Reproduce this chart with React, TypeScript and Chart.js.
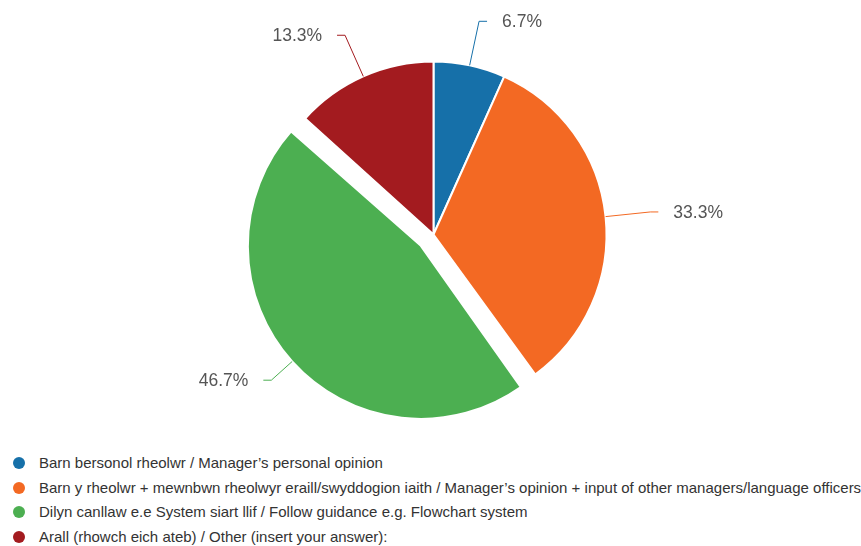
import React, { useEffect, useRef } from 'react';
import { Chart, registerables } from 'chart.js';

Chart.register(...registerables);

const categories = [
  'Barn bersonol rheolwr / Manager\u2019s personal opinion',
  'Barn y rheolwr + mewnbwn rheolwyr eraill/swyddogion iaith / Manager\u2019s opinion + input of other managers/language officers',
  'Dilyn canllaw e.e System siart llif / Follow guidance e.g. Flowchart system',
  'Arall (rhowch eich ateb) / Other (insert your answer):',
];
const values = [6.7, 33.3, 46.7, 13.3];
const colors = ['#1670a9', '#f36923', '#4caf51', '#a31b1f'];
// Chart.js translates an offset arc by offset/4 px
const explode = [0, 0, 68, 0];
const PIE_RADIUS = 173;

const LABEL_FONT = '17.5px "Liberation Sans", Arial, sans-serif';

// keep exploded slice the same radius as the others
const radiusFixPlugin = {
  id: 'radiusFix',
  beforeDatasetsDraw(chart: any) {
    const meta = chart.getDatasetMeta(0);
    meta.data.forEach((arc: any, i: number) => {
      const shift = explode[i] / 4;
      const circ = arc.endAngle - arc.startAngle;
      const fix = 1 - Math.sin(Math.min(Math.PI, circ || 0));
      arc.outerRadius = PIE_RADIUS - shift * fix;
    });
  },
};

const leaderPlugin = {
  id: 'leaderLabels',
  afterDatasetsDraw(chart: any) {
    const meta = chart.getDatasetMeta(0);
    const ctx = chart.ctx as CanvasRenderingContext2D;
    ctx.save();
    meta.data.forEach((arc: any, i: number) => {
      const p = arc.getProps(['x', 'y', 'startAngle', 'endAngle'], true);
      const mid = (p.startAngle + p.endAngle) / 2;
      const c = Math.cos(mid);
      const s = Math.sin(mid);
      const shift = explode[i] / 4;
      const sx = p.x + c * (PIE_RADIUS + shift);
      const sy = p.y + s * (PIE_RADIUS + shift);
      const ex = p.x + c * (PIE_RADIUS + 45);
      const ey = p.y + s * (PIE_RADIUS + 45);
      const dir = c >= 0 ? 1 : -1;
      const hx = ex + dir * 8;
      ctx.beginPath();
      ctx.moveTo(sx, sy);
      ctx.lineTo(ex, ey);
      ctx.lineTo(hx, ey);
      ctx.strokeStyle = colors[i];
      ctx.lineWidth = 1;
      ctx.stroke();
      ctx.font = LABEL_FONT;
      ctx.fillStyle = '#555555';
      ctx.textAlign = dir > 0 ? 'left' : 'right';
      ctx.textBaseline = 'middle';
      ctx.fillText(values[i].toFixed(1) + '%', hx + dir * 15, ey + 1);
    });
    ctx.restore();
  },
};

export default function App() {
  const canvasRef = useRef<HTMLCanvasElement | null>(null);

  useEffect(() => {
    document.body.style.margin = '0';
    const canvas = canvasRef.current;
    if (!canvas) return;
    const chart = new Chart(canvas, {
      type: 'pie',
      data: {
        labels: categories,
        datasets: [
          {
            data: values,
            backgroundColor: colors,
            borderColor: '#ffffff',
            borderWidth: 2,
            offset: explode,
            radius: PIE_RADIUS,
          } as any,
        ],
      },
      options: {
        animation: false,
        responsive: true,
        maintainAspectRatio: false,
        layout: { padding: { left: 6, right: 0, top: 29, bottom: 0 } },
        plugins: {
          legend: { display: false },
          tooltip: { enabled: false },
        },
      },
      plugins: [radiusFixPlugin, leaderPlugin],
    });
    return () => chart.destroy();
  }, []);

  return (
    <div style={{ width: 861, height: 546, position: 'relative', background: '#fff', fontFamily: '"Liberation Sans", Arial, sans-serif' }}>
      <div style={{ position: 'absolute', left: 0, top: 0, width: 861, height: 440 }}>
        <canvas ref={canvasRef} />
      </div>
      <div style={{ position: 'absolute', left: 0, top: 451, width: 861 }}>
        {categories.map((cat, i) => (
          <div key={i} style={{ position: 'relative', height: 24.7 }}>
            <span
              style={{
                position: 'absolute',
                left: 13,
                top: 6,
                width: 12,
                height: 12,
                borderRadius: '50%',
                background: colors[i],
              }}
            />
            <span style={{ position: 'absolute', left: 39, top: 3, fontSize: 15, lineHeight: '18px', color: '#333', whiteSpace: 'nowrap' }}>
              {cat}
            </span>
          </div>
        ))}
      </div>
    </div>
  );
}
